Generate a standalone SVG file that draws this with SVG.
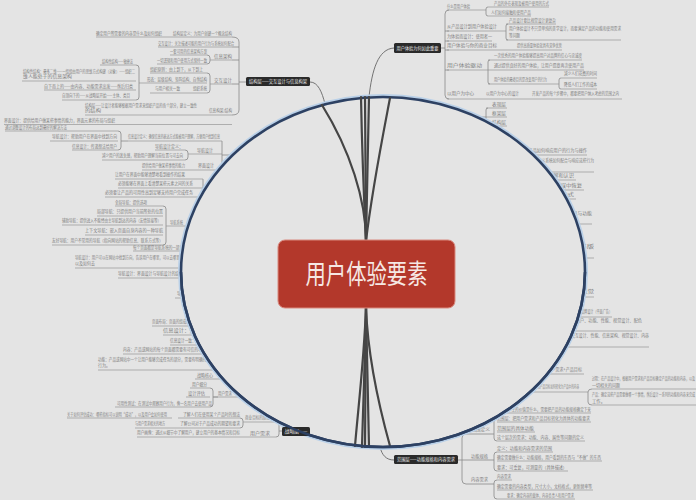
<svg xmlns="http://www.w3.org/2000/svg" width="696" height="500" viewBox="0 0 696 500">
<defs>
<style>
.t{font-family:"Noto Sans CJK SC","Noto Sans",sans-serif;font-size:4.2px;fill:#7c7c7c}
.u{stroke:#969696;stroke-width:0.7;fill:none}
.k{stroke:#888888;stroke-width:0.8;fill:none}
.dn{fill:#2a2a2a}
.dt{font-family:"Noto Sans CJK SC","Noto Sans",sans-serif;font-size:4.6px;fill:#eeeeee}
.fan{stroke:#454545;stroke-width:2.2;fill:none;stroke-linecap:round}
.thin{stroke:#666;stroke-width:0.9;fill:none}
</style>
<clipPath id="outside"><path clip-rule="evenodd" d="M0,0H696V500H0Z M181,272 a202,175 0 1,0 404,0 a202,175 0 1,0 -404,0Z"/></clipPath>
</defs>
<rect width="696" height="500" fill="#e4e4e4"/>

<g id="branches" clip-path="url(#outside)">
<g id="structure-items">
<text class="t" x="96" y="35" textLength="66" lengthAdjust="spacingAndGlyphs">确定用户所需要的内容是什么及如何组织</text>
<text class="t" x="173" y="35" textLength="59" lengthAdjust="spacingAndGlyphs">结构层定义：为用户创建一个概念结构</text>
<path class="u" d="M96,37H232"/>
<text class="t" x="158" y="45" textLength="76" lengthAdjust="spacingAndGlyphs">交互设计：关注描述可能的用户行为与系统如何配合</text>
<path class="u" d="M158,47H232"/>
<text class="t" x="170" y="53" textLength="37" lengthAdjust="spacingAndGlyphs">一套可用的信息架构方案</text>
<path class="u" d="M170,55H207"/>
<text class="t" x="157" y="62" textLength="50" lengthAdjust="spacingAndGlyphs">一切逻辑和用户使用方式保持一致</text>
<path class="u" d="M157,64H207"/>
<path class="k" d="M207,55Q210,55 210,58V61Q210,64 207,64"/>
<text class="t" x="214" y="58" textLength="18" lengthAdjust="spacingAndGlyphs">信息架构</text>
<path class="u" d="M210,60H232"/>
<text class="t" x="150" y="71" textLength="53" lengthAdjust="spacingAndGlyphs">组织原则：由上到下，从下到上</text>
<path class="u" d="M150,73H207"/>
<text class="t" x="147" y="81" textLength="60" lengthAdjust="spacingAndGlyphs">形态：层级结构、矩阵结构、自然结构</text>
<path class="u" d="M139,83H207"/>
<text class="t" x="155" y="90" textLength="25" lengthAdjust="spacingAndGlyphs">与用户相关一致</text>
<text class="t" x="193" y="90" textLength="14" lengthAdjust="spacingAndGlyphs">组织系统</text>
<path class="u" d="M150,93H207"/>
<path class="k" d="M207,73Q210,73 210,76V90Q210,93 207,93"/>
<text class="t" x="214" y="82" textLength="18" lengthAdjust="spacingAndGlyphs">交互设计</text>
<path class="u" d="M210,84H232"/>
<text class="t" x="102" y="63" textLength="31" lengthAdjust="spacingAndGlyphs">结构性结构——敏捷法</text>
<path class="u" d="M100,65H136"/>
<text class="t" x="23" y="73" textLength="112" lengthAdjust="spacingAndGlyphs">结构性结构：最多二维——一组组由用户的思维方式构建（对象）——组织二</text>
<text class="t" x="23" y="78" textLength="49" lengthAdjust="spacingAndGlyphs">维人能处于的信息架构</text>
<path class="u" d="M22,81H136"/>
<text class="t" x="44" y="88" textLength="89" lengthAdjust="spacingAndGlyphs">自下而上的——由内容、功能需求出发——然后归类</text>
<path class="u" d="M44,90H136"/>
<text class="t" x="62" y="97" textLength="68" lengthAdjust="spacingAndGlyphs">自顶向下的——从战略层开始——主体、类目</text>
<path class="u" d="M62,100H136"/>
<path class="k" d="M136,65Q139,65 139,68V97Q139,100 136,100"/>
<text class="t" x="85" y="107" textLength="112" lengthAdjust="spacingAndGlyphs">结构层——让设计者能够根据用户需求来组织产品的各个部分，建立一致性</text>
<text class="t" x="85" y="112" textLength="16" lengthAdjust="spacingAndGlyphs">的结构</text>
<text class="t" x="209" y="112" textLength="23" lengthAdjust="spacingAndGlyphs">信息构架/结构</text>
<path class="u" d="M85,115H232"/>
<path class="k" d="M232,37Q239,37 239,42V110Q239,115 232,115M232,47H239M232,60H239M232,84H239M239,82H246"/>
</g>

<g id="framework-items">
<text class="t" x="4" y="122" textLength="111" lengthAdjust="spacingAndGlyphs">界面设计：提供给用户做某些事情的能力，界面元素的布局与组织</text>
<path class="u" d="M4,124.5H232"/>
<text class="t" x="5" y="129" textLength="62" lengthAdjust="spacingAndGlyphs">通过调整设计的布局达到最好的解决方法</text>
<path class="u" d="M5,131H118"/>
<text class="t" x="52" y="138" textLength="65" lengthAdjust="spacingAndGlyphs">导航设计：帮助用户在界面中找到方向</text>
<path class="u" d="M50,141H118"/>
<text class="t" x="72" y="148" textLength="45" lengthAdjust="spacingAndGlyphs">信息设计：传递想法给用户</text>
<path class="u" d="M72,150H118"/>
<path class="k" d="M118,131Q121,131 121,134V147Q121,150 118,150M121,141H128"/>
<text class="t" x="128" y="138" textLength="92" lengthAdjust="spacingAndGlyphs">信息设计定义：确保信息的表达方式能被用户理解，方便用户找到信息</text>
<path class="u" d="M128,141H222"/>
<text class="t" x="155" y="148" textLength="28" lengthAdjust="spacingAndGlyphs">导航设计定义：</text>
<path class="u" d="M155,150H185"/>
<text class="t" x="102" y="157" textLength="81" lengthAdjust="spacingAndGlyphs">减少用户的迷失感，帮助用户理解当前位置与可去向</text>
<path class="u" d="M102,160H185"/>
<path class="k" d="M185,150Q188,150 188,153V157Q188,160 185,160"/>
<text class="t" x="197" y="152" textLength="16" lengthAdjust="spacingAndGlyphs">导航设计</text>
<path class="u" d="M188,154H222"/>
<text class="t" x="142" y="167" textLength="43" lengthAdjust="spacingAndGlyphs">提供给用户做某些事情的能力</text>
<text class="t" x="198" y="167" textLength="16" lengthAdjust="spacingAndGlyphs">界面设计</text>
<path class="u" d="M142,170H222"/>
<path class="k" d="M222,141V170M222,155H240"/>
<text class="t" x="115" y="176" textLength="70" lengthAdjust="spacingAndGlyphs">让用户在界面中能够清楚地看到操作的结果</text>
<path class="u" d="M115,179H203"/>
<text class="t" x="118" y="185" textLength="75" lengthAdjust="spacingAndGlyphs">必须能够在界面上看清楚某些元素之间的关系</text>
<path class="u" d="M118,188H203"/>
<text class="t" x="105" y="194" textLength="88" lengthAdjust="spacingAndGlyphs">必须要让产品的可用性高到足够支持用户完成任务</text>
<path class="u" d="M105,197H203"/>
<path class="k" d="M203,179V197M203,188H215"/>
<text class="t" x="115" y="204" textLength="32" lengthAdjust="spacingAndGlyphs">全局导航：提供选项</text>
<path class="u" d="M115,206H163"/>
<text class="t" x="97" y="213" textLength="66" lengthAdjust="spacingAndGlyphs">局部导航：只提供用户当前所处的位置</text>
<path class="u" d="M97,216H163"/>
<text class="t" x="62" y="222" textLength="99" lengthAdjust="spacingAndGlyphs">辅助导航：提供进入不能经由主导航到达的内容（友情链接等）</text>
<path class="u" d="M62,225H163"/>
<text class="t" x="85" y="232" textLength="78" lengthAdjust="spacingAndGlyphs">上下文导航：嵌入页面自身内容的一种导航</text>
<path class="u" d="M85,235H163"/>
<text class="t" x="52" y="242" textLength="111" lengthAdjust="spacingAndGlyphs">友好导航：用户不常用的导航（指向网站的帮助信息、联系方式等）</text>
<path class="u" d="M52,245H163"/>
<path class="k" d="M163,206Q166,206 166,209V242Q166,245 163,245"/>
<text class="t" x="170" y="224" textLength="13" lengthAdjust="spacingAndGlyphs">导航系统</text>
<path class="u" d="M166,226H200"/>
<text class="t" x="133" y="249" textLength="50" lengthAdjust="spacingAndGlyphs">每个页面都是导航系统的一部分</text>
<path class="u" d="M133,251H200"/>
<text class="t" x="75" y="259" textLength="108" lengthAdjust="spacingAndGlyphs">导航设计：用户可以在网站中找到方向，告诉用户在哪里，可以去哪里，</text>
<text class="t" x="75" y="265" textLength="20" lengthAdjust="spacingAndGlyphs">以及如何去</text>
<path class="u" d="M75,268H200"/>
<text class="t" x="118" y="275" textLength="65" lengthAdjust="spacingAndGlyphs">导航设计：界面设计与导航设计的结合</text>
<path class="u" d="M118,278H200"/>
<text class="t" x="177" y="295" textLength="8" lengthAdjust="spacingAndGlyphs">导航</text>
<path class="u" d="M175,298H200"/>
<text class="t" x="152" y="323" textLength="41" lengthAdjust="spacingAndGlyphs">页面布局：页面的组成部分</text>
<path class="u" d="M152,326H215"/>
<text class="t" x="163" y="332" textLength="37" lengthAdjust="spacingAndGlyphs">信息设计：交互</text>
<path class="u" d="M163,335H215"/>
<text class="t" x="170" y="342" textLength="33" lengthAdjust="spacingAndGlyphs">信息设计一致：界面</text>
<path class="u" d="M170,345H215"/>
<text class="t" x="123" y="351" textLength="90" lengthAdjust="spacingAndGlyphs">内容：产品或网站的每个页面都需要有可信的导航信息</text>
<path class="u" d="M123,354H225"/>
<text class="t" x="98" y="361" textLength="119" lengthAdjust="spacingAndGlyphs">功能：产品或网站中一个让用户能够完成任务的部分，需要有明确的定义和</text>
<text class="t" x="98" y="367" textLength="12" lengthAdjust="spacingAndGlyphs">行为。</text>
<path class="u" d="M98,370H235"/>
</g>

<g id="strategy-items">
<text class="t" x="197" y="377" textLength="16" lengthAdjust="spacingAndGlyphs">战略核心</text>
<path class="u" d="M195,379H240"/>
<text class="t" x="192" y="386" textLength="15" lengthAdjust="spacingAndGlyphs">用户细分</text>
<path class="u" d="M190,388H210"/>
<text class="t" x="188" y="395" textLength="17" lengthAdjust="spacingAndGlyphs">设计评估</text>
<path class="u" d="M186,397H210"/>
<text class="t" x="117" y="405" textLength="95" lengthAdjust="spacingAndGlyphs">可用性测试：在测试中观察用户行为，像一名用户去使用产品</text>
<path class="u" d="M115,407H210"/>
<path class="k" d="M210,388Q213,388 213,391V404Q213,407 210,407M213,397H218"/>
<text class="t" x="218" y="395" textLength="14" lengthAdjust="spacingAndGlyphs">用户需求</text>
<path class="u" d="M213,397H245"/>
<text class="t" x="67" y="416" textLength="100" lengthAdjust="spacingAndGlyphs">关于如何评估成功：哪些指标可以说明“成功”，以及用户会如何使用</text>
<path class="u" d="M67,418H172"/>
<text class="t" x="183" y="416" textLength="57" lengthAdjust="spacingAndGlyphs">了解人们在使用某个产品时的想法</text>
<path class="u" d="M178,418H240"/>
<text class="t" x="135" y="425" textLength="30" lengthAdjust="spacingAndGlyphs">与用户需求相关的地方</text>
<text class="t" x="180" y="425" textLength="60" lengthAdjust="spacingAndGlyphs">了解公司对于产品成功的期望和要求</text>
<path class="u" d="M135,428H240"/>
<text class="t" x="137" y="434" textLength="103" lengthAdjust="spacingAndGlyphs">用户画像：通过从细节中了解用户，建立用户的基本情况和目标</text>
<path class="u" d="M137,437H240"/>
<path class="k" d="M240,418Q243,418 243,421V425Q243,428 240,428"/>
<text class="t" x="245" y="419" textLength="25" lengthAdjust="spacingAndGlyphs">商业目标的制定</text>
<path class="u" d="M243,422H276"/>
<text class="t" x="250" y="435" textLength="20" lengthAdjust="spacingAndGlyphs">用户需求</text>
<path class="u" d="M240,437H276"/>
<path class="k" d="M276,422Q279,422 279,425V434Q279,437 276,437M279,431H282"/>
</g>

<g id="why-items">
<path class="k" d="M441,48H445M449,10Q445,10 445,14V95Q445,99 449,99M445,31H449M445,41H449M445,50H449M445,70H449"/>
<text class="t" x="447" y="8" textLength="23" lengthAdjust="spacingAndGlyphs">什么是用户体验</text>
<path class="u" d="M447,10H486"/>
<text class="t" x="494" y="5" textLength="55" lengthAdjust="spacingAndGlyphs">产品的外在表现及被用户使用的方式</text>
<path class="u" d="M488,7H549"/>
<text class="t" x="491" y="14" textLength="40" lengthAdjust="spacingAndGlyphs">人们如何接触和使用产品</text>
<path class="u" d="M488,16H531"/>
<path class="k" d="M488,7Q486,7 486,9V14Q486,16 488,16"/>
<text class="t" x="447" y="28" textLength="50" lengthAdjust="spacingAndGlyphs">从产品设计到用户体验设计</text>
<path class="u" d="M447,31H506"/>
<text class="t" x="509" y="22" textLength="47" lengthAdjust="spacingAndGlyphs">产品设计要比视觉设计更复杂</text>
<path class="u" d="M506,24H556"/>
<text class="t" x="509" y="30" textLength="112" lengthAdjust="spacingAndGlyphs">用户体验设计不只是单纯的美学设计，而要满足产品的功能和使用需求</text>
<text class="t" x="509" y="37" textLength="11" lengthAdjust="spacingAndGlyphs">等问题</text>
<path class="u" d="M506,40H621"/>
<path class="k" d="M508,24Q506,24 506,26V38Q506,40 508,40"/>
<text class="t" x="447" y="38" textLength="45" lengthAdjust="spacingAndGlyphs">为体验而设计：使用者一</text>
<path class="u" d="M447,41H492"/>
<text class="t" x="447" y="47" textLength="50" lengthAdjust="spacingAndGlyphs">用户体验与你的商业目标</text>
<text class="t" x="517" y="47" textLength="45" lengthAdjust="spacingAndGlyphs">提供高质量体验就具有竞争优势</text>
<path class="u" d="M447,50H562"/>
<text class="t" x="494" y="57" textLength="88" lengthAdjust="spacingAndGlyphs">一次优秀的用户体验能够提高用户对品牌的信心与忠诚度</text>
<path class="u" d="M488,60H582"/>
<text class="t" x="447" y="67" textLength="35" lengthAdjust="spacingAndGlyphs">用户体验驱动</text>
<text class="t" x="494" y="67" textLength="90" lengthAdjust="spacingAndGlyphs">通过提供良好的用户体验，让用户愿意再次使用产品</text>
<path class="u" d="M447,70H584"/>
<text class="t" x="494" y="81" textLength="53" lengthAdjust="spacingAndGlyphs">用户体验的最终目的是改变用户的行为</text>
<path class="u" d="M488,84H559"/>
<path class="k" d="M490,60Q488,60 488,62V82Q488,84 490,84"/>
<text class="t" x="564" y="75" textLength="33" lengthAdjust="spacingAndGlyphs">减少人们花费的时间</text>
<path class="u" d="M561,78H597"/>
<text class="t" x="564" y="86" textLength="33" lengthAdjust="spacingAndGlyphs">降低人们工作的成本</text>
<path class="u" d="M561,89H597"/>
<path class="k" d="M561,78Q559,78 559,80V87Q559,89 561,89"/>
<text class="t" x="447" y="95" textLength="27" lengthAdjust="spacingAndGlyphs">以用户为中心</text>
<text class="t" x="486" y="95" textLength="33" lengthAdjust="spacingAndGlyphs">以用户为中心的设计</text>
<text class="t" x="532" y="95" textLength="87" lengthAdjust="spacingAndGlyphs">开发产品的每个步骤中，都要把用户纳入考虑的范围之内</text>
<path class="u" d="M447,99H622"/>
</g>

<g id="right-items">
<text class="t" x="492" y="106" textLength="14" lengthAdjust="spacingAndGlyphs">表现层</text>
<path class="u" d="M486,108H507"/>
<text class="t" x="492" y="115" textLength="14" lengthAdjust="spacingAndGlyphs">框架层</text>
<path class="u" d="M486,117H507"/>
<text class="t" x="492" y="124" textLength="14" lengthAdjust="spacingAndGlyphs">结构层</text>
<path class="u" d="M486,126H507"/>
<path class="k" d="M488,108Q486,108 486,110V124Q486,126 488,126M486,117H470"/>
<text class="t" x="470" y="152" textLength="117" lengthAdjust="spacingAndGlyphs">用户在使用产品时会发生什么，产品如何响应用户的行为与操作</text>
<path class="u" d="M470,155H587"/>
<text class="t" x="470" y="162" textLength="124" lengthAdjust="spacingAndGlyphs">交互设计关注描述可能的用户行为，同时定义系统如何配合与响应这些行为</text>
<path class="u" d="M470,172H594"/>
<text class="t" x="470" y="177" textLength="104" lengthAdjust="spacingAndGlyphs">概念模型：用户对产品工作方式的理解和认识</text>
<path class="u" d="M470,180H576"/>
<text class="t" x="470" y="187" textLength="112" lengthAdjust="spacingAndGlyphs">错误处理：预防错误、纠正错误、从错误中恢复</text>
<path class="u" d="M470,190H584"/>
<text class="t" x="470" y="196" textLength="104" lengthAdjust="spacingAndGlyphs">信息架构：信息的组织与分类方式</text>
<path class="u" d="M470,199H576"/>
<text class="t" x="470" y="215" textLength="122" lengthAdjust="spacingAndGlyphs">组织分类体系：让用户能够高效地找到需要的信息与功能</text>
<path class="u" d="M470,224H592"/>
<text class="t" x="470" y="248" textLength="124" lengthAdjust="spacingAndGlyphs">视觉设计：页面元素的视觉处理与排版</text>
<path class="u" d="M470,258H594"/>
<text class="t" x="470" y="293" textLength="124" lengthAdjust="spacingAndGlyphs">感知设计：视觉、听觉、触觉、嗅觉、味觉</text>
<path class="u" d="M470,297H594"/>
<text class="t" x="581" y="313" textLength="31" lengthAdjust="spacingAndGlyphs">品牌设计（平面广告）</text>
<path class="u" d="M470,317H612"/>
<text class="t" x="576" y="322" textLength="66" lengthAdjust="spacingAndGlyphs">用户、功能、性能、视觉设计、配色</text>
<path class="u" d="M470,331H642"/>
<text class="t" x="571" y="337" textLength="78" lengthAdjust="spacingAndGlyphs">交互设计、性能、信息架构、视觉设计、内容</text>
<path class="u" d="M470,347H649"/>
<text class="t" x="547" y="371" textLength="35" lengthAdjust="spacingAndGlyphs">用户需求+产品目标</text>
<path class="u" d="M470,374H584"/>
<text class="t" x="527" y="388" textLength="52" lengthAdjust="spacingAndGlyphs">用户需求和产品目标如何转化为产品中的内容</text>
<path class="u" d="M470,392H588"/>
<path class="k" d="M592,389Q588,389 588,392V402Q588,405 592,405"/>
<text class="t" x="592" y="380" textLength="103" lengthAdjust="spacingAndGlyphs">过程：在产品设计中，根据用户需求和产品目标确定产品的功能和内容，以及</text>
<text class="t" x="592" y="386.5" textLength="28" lengthAdjust="spacingAndGlyphs">一切相关的问题</text>
<path class="u" d="M592,389H696"/>
<text class="t" x="592" y="396" textLength="103" lengthAdjust="spacingAndGlyphs">产品：确定这些产品需要做哪一个事情，然后设计一系列的功能和内容来完成</text>
<text class="t" x="592" y="402.5" textLength="13" lengthAdjust="spacingAndGlyphs">工作。</text>
<path class="u" d="M592,405H696"/>
</g>

<g id="scope-items">
<path class="k" d="M491,434H466Q462,434 462,438V480Q462,484 466,484H491M458,460H491"/>
<text class="t" x="471" y="431" textLength="19" lengthAdjust="spacingAndGlyphs">范围定义</text>
<text class="t" x="471" y="458" textLength="17" lengthAdjust="spacingAndGlyphs">功能规格</text>
<text class="t" x="471" y="481" textLength="17" lengthAdjust="spacingAndGlyphs">内容需求</text>
<path class="k" d="M497,413Q494,413 494,416V438Q494,441 497,441M491,434H494"/>
<text class="t" x="497" y="411" textLength="94" lengthAdjust="spacingAndGlyphs">为用户产生的价值是什么，需要把产品的功能规格确定下来</text>
<path class="u" d="M497,413H591"/>
<text class="t" x="497" y="420" textLength="93" lengthAdjust="spacingAndGlyphs">范围层：把用户需求和产品目标转化为具体的功能要求</text>
<path class="u" d="M497,422H591"/>
<text class="t" x="497" y="430" textLength="37" lengthAdjust="spacingAndGlyphs">范围层的具体功能</text>
<path class="u" d="M497,432H535"/>
<text class="t" x="497" y="439" textLength="87" lengthAdjust="spacingAndGlyphs">这个层次的需求：功能、内容、属性等问题的定义</text>
<path class="u" d="M497,441H585"/>
<path class="k" d="M497,452Q494,452 494,455V468Q494,471 497,471M491,460H494"/>
<text class="t" x="497" y="450" textLength="55" lengthAdjust="spacingAndGlyphs">定义：功能和内容需求的范围</text>
<path class="u" d="M497,452H553"/>
<text class="t" x="497" y="459" textLength="104" lengthAdjust="spacingAndGlyphs">确定需要做什么：功能规格，用户看到的东西与“不做”的东西</text>
<path class="u" d="M497,461H602"/>
<text class="t" x="497" y="469" textLength="70" lengthAdjust="spacingAndGlyphs">要求：可重复，可测量的（具体描述）</text>
<path class="u" d="M497,471H568"/>
<path class="k" d="M497,480Q494,480 494,483V496Q494,499 497,499M491,484H494"/>
<text class="t" x="497" y="478" textLength="14" lengthAdjust="spacingAndGlyphs">内容需求</text>
<path class="u" d="M497,480H512"/>
<text class="t" x="497" y="488" textLength="95" lengthAdjust="spacingAndGlyphs">确定需要的内容类型，尺寸大小，文档格式，更新频率等</text>
<path class="u" d="M497,490H593"/>
<text class="t" x="507" y="497" textLength="67" lengthAdjust="spacingAndGlyphs">要求：确定内容的载体，内容负责人和用户需求</text>
<path class="u" d="M497,499H575"/>
</g>
</g>

<g id="connectors">
<path class="thin" d="M369,97C372,70 378,49 394,48"/>
<path class="thin" d="M325,104C322,92 318,82 310,82"/>
<path class="thin" d="M380,447C382,455 386,460 394,460"/>
<ellipse cx="383" cy="272" rx="204" ry="177" fill="none" stroke="#b9d0e8" stroke-width="2"/>
<ellipse cx="383" cy="272" rx="202" ry="175" fill="none" stroke="#2d4163" stroke-width="2.6"/>
<path class="fan" d="M366,241C366,200 350,150 322,105"/>
<path class="fan" d="M366,241C364,200 362,150 361,97"/>
<path class="fan" d="M366,241L365,97"/>
<path class="fan" d="M366,241C367,200 368,150 369,97"/>
<path class="fan" d="M366,241C372,190 382,140 390,98"/>
<path class="fan" d="M366,308C364,360 358,410 355,446"/>
<path class="fan" d="M366,308C365,360 363,410 362,447"/>
<path class="fan" d="M366,308L365,447"/>
<path class="fan" d="M366,308C367,360 368,410 369,447"/>
<path class="fan" d="M366,308C368,360 380,410 390,446"/>
</g>

<g id="node-why">
<rect class="dn" x="394" y="43" width="47" height="10" rx="1.5"/>
<text class="dt" x="417.5" y="49.6" text-anchor="middle" textLength="42" lengthAdjust="spacingAndGlyphs">用户体验为何如此重要</text>
</g>
<g id="node-structure">
<rect class="dn" x="246" y="77" width="64" height="9" rx="1.5"/>
<text class="dt" x="278" y="83.3" text-anchor="middle" textLength="58" lengthAdjust="spacingAndGlyphs">结构层——交互设计与信息构架</text>
</g>
<g id="node-scope">
<rect class="dn" x="394" y="455" width="64" height="9" rx="1.5"/>
<text class="dt" x="426" y="461.3" text-anchor="middle" textLength="58" lengthAdjust="spacingAndGlyphs">范围层——功能规格和内容需求</text>
</g>
<g id="node-strategy">
<rect class="dn" x="282" y="427" width="28" height="9" rx="1.5"/>
<text class="dt" x="296" y="433.3" text-anchor="middle" textLength="23" lengthAdjust="spacingAndGlyphs">战略层——</text>
<path d="M181,272 a202,175 0 1,0 404,0" fill="none" stroke="#2d4163" stroke-width="2.6"/>
</g>
<g id="node-center">
<rect x="278" y="240" width="177" height="68" rx="7" fill="#b3382b" stroke="#d9897f" stroke-width="1"/>
<text x="366.5" y="284" text-anchor="middle" font-family="'Noto Sans CJK SC','Noto Sans',sans-serif" font-size="27" fill="#f6e8e4" textLength="122" lengthAdjust="spacingAndGlyphs">用户体验要素</text>
</g>
</svg>
